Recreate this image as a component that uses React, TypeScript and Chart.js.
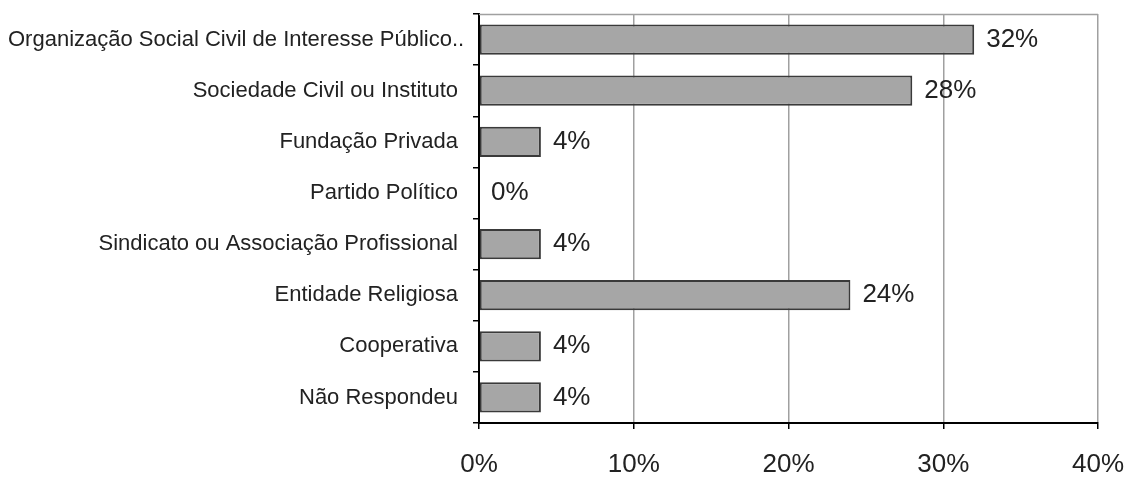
import React, { useEffect, useRef } from "react";
import { Chart, registerables } from "chart.js";

Chart.register(...registerables);

const categories = [
  "Organização Social Civil de Interesse Público..",
  "Sociedade Civil ou Instituto",
  "Fundação Privada",
  "Partido Político",
  "Sindicato ou Associação Profissional",
  "Entidade Religiosa",
  "Cooperativa",
  "Não Respondeu",
];
const values = [32, 28, 4, 0, 4, 24, 4, 4];
const xTicks = [0, 10, 20, 30, 40];

const FONT = "'Liberation Sans', Arial, Helvetica, sans-serif";

const labelsPlugin = {
  id: "customLabels",
  afterDraw(chart: any) {
    const { ctx, chartArea } = chart;
    const yScale = chart.scales.y;
    ctx.save();
    // top border of plot
    ctx.strokeStyle = "#a0a0a0";
    ctx.lineWidth = 1.5;
    ctx.beginPath();
    ctx.moveTo(chartArea.left, chartArea.top + 0.5);
    ctx.lineTo(chartArea.right, chartArea.top + 0.5);
    ctx.stroke();

    // category labels
    ctx.font = `22px ${FONT}`;
    ctx.fillStyle = "#222";
    ctx.textBaseline = "middle";
    ctx.textAlign = "right";
    categories.forEach((c, i) => {
      const y = yScale.getPixelForValue(i);
      const w = ctx.measureText(c).width;
      const x = Math.max(chartArea.left - 21, w + 8);
      ctx.fillText(c, x, y);
    });

    // value labels
    ctx.font = `26px ${FONT}`;
    ctx.textAlign = "left";
    const meta = chart.getDatasetMeta(0);
    meta.data.forEach((el: any, i: number) => {
      ctx.fillText(values[i] + "%", el.x + 12, el.y);
    });
    ctx.restore();
  },
};

export default function App() {
  const ref = useRef<HTMLCanvasElement>(null);
  useEffect(() => {
    document.body.style.margin = "0";
    document.documentElement.style.overflow = "hidden";
    if (!ref.current) return;
    const chart = new Chart(ref.current, {
      type: "bar",
      data: {
        labels: categories,
        datasets: [
          {
            data: values,
            backgroundColor: "#a6a6a6",
            borderColor: "#3a3a3a",
            borderWidth: 2,
            borderSkipped: false,
            barPercentage: 0.59,
            categoryPercentage: 1,
          },
        ],
      },
      options: {
        indexAxis: "y",
        responsive: false,
        animation: false,
        layout: { padding: { top: 14, right: 31, bottom: 0, left: 0 } },
        plugins: { legend: { display: false }, tooltip: { enabled: false } },
        scales: {
          x: {
            min: xTicks[0],
            max: xTicks[xTicks.length - 1],
            afterBuildTicks: (s: any) => {
              s.ticks = xTicks.map((v) => ({ value: v }));
            },
            ticks: {
              callback: (v: any) => v + "%",
              font: { size: 26, family: FONT },
              color: "#222",
              padding: 20,
              maxRotation: 0,
            },
            grid: {
              color: "#a0a0a0",
              tickColor: "#000",
              tickLength: 6,
              lineWidth: 1.5,
            },
            border: { color: "#000", width: 2 },
            afterFit: (s: any) => {
              s.height = 54;
              s.paddingRight = 0;
              s.paddingLeft = 0;
            },
          },
          y: {
            ticks: { display: false },
            grid: {
              drawOnChartArea: false,
              drawTicks: true,
              tickLength: 6,
              color: "#000",
              lineWidth: 1.5,
              offset: true,
            },
            border: { color: "#000", width: 2 },
            afterFit: (s: any) => {
              s.width = 479;
            },
          },
        },
      },
      plugins: [labelsPlugin],
    });
    return () => chart.destroy();
  }, []);
  return <canvas ref={ref} width={1129} height={477} style={{ display: "block" }} />;
}
